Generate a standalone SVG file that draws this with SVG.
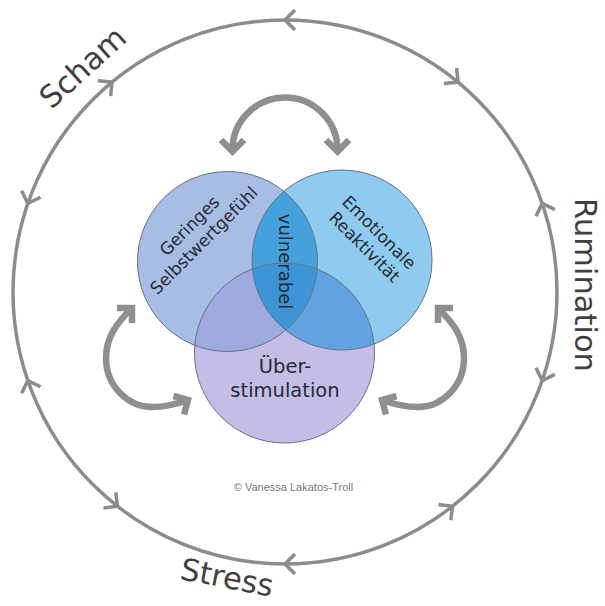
<svg xmlns="http://www.w3.org/2000/svg" xmlns:xlink="http://www.w3.org/1999/xlink" width="605" height="606" viewBox="0 0 605 606">
  <style>
    .ring { fill: none; stroke: #8c8c8c; stroke-width: 3.5; }
    .chev { fill: none; stroke: #8c8c8c; stroke-width: 3.5; stroke-linejoin: miter; }
    .cyc { fill: none; stroke: #8f8f8f; stroke-width: 6.5; stroke-linejoin: miter; }
    .outline { fill: none; stroke: #66728a; stroke-width: 1; }
    .big { font-family: "DejaVu Sans", Verdana, sans-serif; font-size: 30.5px; fill: #404040; text-anchor: middle; }
    .lbl { font-family: "DejaVu Sans", Verdana, sans-serif; font-size: 17px; fill: #262a35; text-anchor: middle; }
    .lbl2 { font-family: "DejaVu Sans", Verdana, sans-serif; font-size: 19.5px; fill: #262a35; text-anchor: middle; }
    .copy { font-family: "Liberation Sans", Arial, sans-serif; font-size: 11px; fill: #7a7a7a; text-anchor: middle; }
  </style>
  <defs>
    <path id="chev" class="chev" d="M-10,-10 L0,0 L-10,10"/>
    <clipPath id="clipL"><circle cx="227.5" cy="261.5" r="90"/></clipPath>
    <clipPath id="clipR"><circle cx="342" cy="260" r="90"/></clipPath>
    <g id="sideArrow">
      <path class="cyc" d="M132 308 C118 322 106 336 106 358 C106 386 128 407 152 407 C166 407 177 404 188 400"/>
      <polyline class="cyc" points="117,308 132,308 132,323"/>
      <polyline class="cyc" points="173.5,396 188,400 184,414.5"/>
    </g>
  </defs>
  <rect width="605" height="606" fill="#ffffff"/>

  <g id="connectors">
    <circle class="ring" cx="285" cy="292" r="272"/>
    <use xlink:href="#chev" transform="translate(542.2,380.6) rotate(109)"/>
    <use xlink:href="#chev" transform="translate(452.5,506.3) rotate(-38)"/>
    <use xlink:href="#chev" transform="translate(285,564) rotate(180)"/>
    <use xlink:href="#chev" transform="translate(117.5,506.3) rotate(38)"/>
    <use xlink:href="#chev" transform="translate(27.8,380.6) rotate(251)"/>
    <use xlink:href="#chev" transform="translate(27.8,203.4) rotate(109)"/>
    <use xlink:href="#chev" transform="translate(112,82.1) rotate(320.5)"/>
    <use xlink:href="#chev" transform="translate(285,20) rotate(180)"/>
    <use xlink:href="#chev" transform="translate(458,82.1) rotate(39.5)"/>
    <use xlink:href="#chev" transform="translate(542.2,203.4) rotate(251)"/>

    <g id="arrow-top">
      <path class="cyc" d="M232.5 151 L232.5 150 A52.5 52.5 0 0 1 337.5 150 L337.5 151"/>
      <polyline class="cyc" points="221,140 232.5,151.5 244,140"/>
      <polyline class="cyc" points="326,140 337.5,151.5 349,140"/>
    </g>
    <use id="arrow-left" xlink:href="#sideArrow"/>
    <use id="arrow-right" xlink:href="#sideArrow" transform="translate(570,0) scale(-1,1)"/>
  </g>

  <g id="venn">
    <circle cx="227.5" cy="261.5" r="90" fill="#a8bde4"/>
    <circle cx="342" cy="260" r="90" fill="#8fcbef"/>
    <circle cx="284.5" cy="353" r="90" fill="#c4bee6"/>
    <g clip-path="url(#clipL)">
      <circle cx="342" cy="260" r="90" fill="#45a1db"/>
      <circle cx="284.5" cy="353" r="90" fill="#9eaadd"/>
    </g>
    <g clip-path="url(#clipR)">
      <circle cx="284.5" cy="353" r="90" fill="#62a2e1"/>
    </g>
    <g clip-path="url(#clipL)">
      <g clip-path="url(#clipR)">
        <circle cx="284.5" cy="353" r="90" fill="#3d95d6"/>
      </g>
    </g>
    <circle class="outline" cx="227.5" cy="261.5" r="90"/>
    <circle class="outline" cx="342" cy="260" r="90"/>
    <circle class="outline" cx="284.5" cy="353" r="90"/>
  </g>

  <g id="node-geringes" transform="translate(197.5,234) rotate(-45)">
    <text class="lbl" x="0" y="-5.5">Geringes</text>
    <text class="lbl" x="0" y="15">Selbstwertgefühl</text>
  </g>
  <g id="node-emotionale" transform="translate(371,240.5) rotate(45)">
    <text class="lbl" x="0" y="-5.5">Emotionale</text>
    <text class="lbl" x="0" y="15">Reaktivität</text>
  </g>
  <g id="node-vulnerabel" transform="translate(285,261.5) rotate(90)">
    <text class="lbl" style="font-size:18px" x="0" y="6.5">vulnerabel</text>
  </g>
  <g id="node-ueberstimulation">
    <text class="lbl2" x="285" y="373">Über-</text>
    <text class="lbl2" x="285" y="397">stimulation</text>
  </g>

  <g id="label-scham" transform="translate(82.5,67) rotate(-42)">
    <text class="big" x="0" y="11">Scham</text>
  </g>
  <g id="label-rumination" transform="translate(586,285) rotate(90)">
    <text class="big" x="0" y="11">Rumination</text>
  </g>
  <g id="label-stress" transform="translate(227,578) rotate(11)">
    <text class="big" x="0" y="10">Stress</text>
  </g>
  <g id="copyright">
    <text class="copy" x="293.5" y="491">© Vanessa Lakatos-Troll</text>
  </g>
</svg>
